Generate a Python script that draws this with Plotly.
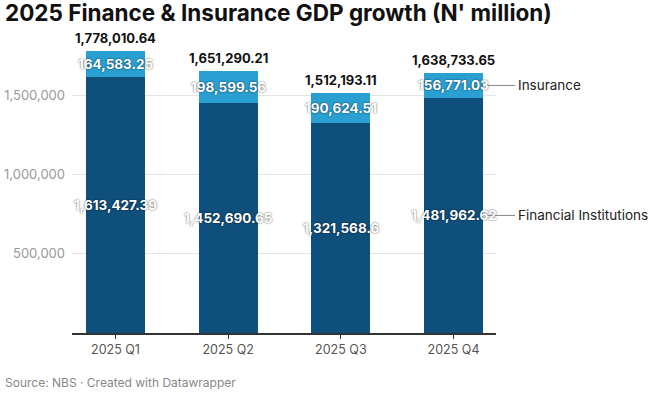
import plotly.graph_objects as go

categories = ["2025 Q1", "2025 Q2", "2025 Q3", "2025 Q4"]
financial = [1613427.39, 1452690.65, 1321568.6, 1481962.62]
insurance = [164583.25, 198599.56, 190624.51, 156771.03]
series_names = ["Financial Institutions", "Insurance"]
y_ticks = [500000, 1000000, 1500000]
title_text = "2025 Finance & Insurance GDP growth (N' million)"
source_text = "Source: NBS \u00b7 Created with Datawrapper"

DARK = "#0f4f7b"
LIGHT = "#2aa0d2"
FONT = "Inter"


def fmt(v):
    s = f"{v:,.2f}"
    s = s.rstrip("0").rstrip(".")
    return s


totals = [f + i for f, i in zip(financial, insurance)]

fig = go.Figure()
fig.add_bar(x=categories, y=financial, name=series_names[0], marker_color=DARK,
            marker_line_width=0, width=0.525, hoverinfo="skip")
fig.add_bar(x=categories, y=insurance, name=series_names[1], marker_color=LIGHT,
            marker_line_width=0, width=0.525, hoverinfo="skip")

shadow = "0px 0px 2px rgba(0,0,0,0.75)"
ann = []
for c, f, i, t in zip(categories, financial, insurance, totals):
    ann.append(dict(x=c, y=f / 2, xref="x", yref="y", text=fmt(f), showarrow=False,
                    font=dict(family=FONT, size=13.5, color="white", weight=700, shadow=shadow)))
    ann.append(dict(x=c, y=f + i / 2, xref="x", yref="y", text=fmt(i), showarrow=False,
                    font=dict(family=FONT, size=13.5, color="white", weight=700, shadow=shadow)))
    ann.append(dict(x=c, y=t, xref="x", yref="y", text=fmt(t), showarrow=False,
                    yanchor="bottom", yshift=3,
                    font=dict(family=FONT, size=13, color="#111", weight=700)))

# direct labels for last category
last_f = financial[-1]
last_i = insurance[-1]
shapes = []
for name, yv in [(series_names[0], last_f / 2), (series_names[1], last_f + last_i / 2)]:
    shapes.append(dict(type="line", xref="paper", yref="y", x0=0.974, x1=1.045, y0=yv, y1=yv,
                       line=dict(color="#888", width=1)))
    ann.append(dict(x=1.047, y=yv, xref="paper", yref="y", text=name, showarrow=False,
                    xanchor="left", font=dict(family=FONT, size=13.5, color="#222")))

ann.append(dict(x=-0.163, y=-0.17, xref="paper", yref="paper", text=source_text,
                showarrow=False, xanchor="left", yanchor="middle",
                font=dict(family=FONT, size=12, color="#888")))

fig.update_layout(
    width=653, height=393,
    barmode="stack",
    showlegend=False,
    plot_bgcolor="white", paper_bgcolor="white",
    margin=dict(l=72, r=157, t=40, b=60, pad=0, autoexpand=False),
    title=dict(text=f"<b>{title_text}</b>", x=5 / 653, xanchor="left", xref="container",
               y=1 - 5 / 393, yanchor="top", yref="container",
               font=dict(family=FONT, size=22.5, color="#111", weight=800), pad=dict(t=0, l=0)),
    annotations=ann,
    shapes=shapes,
    font=dict(family=FONT),
)
fig.update_xaxes(type="category", range=[-0.386, 3.377], showline=True, linecolor="#333",
                 linewidth=1.5, ticks="outside", ticklen=4, tickcolor="#333",
                 tickfont=dict(family=FONT, size=12.5, color="#555"), showgrid=False,
                 fixedrange=True, automargin=False)
fig.update_yaxes(range=[0, 1846600], tickvals=y_ticks, tickformat=",d", showgrid=True,
                 gridcolor="#e4e4e4", gridwidth=1, zeroline=False, ticks="",
                 ticklabelstandoff=6, automargin=False,
                 tickfont=dict(family=FONT, size=13, color="#999"), fixedrange=True)

fig.write_html("out.html", config={"displayModeBar": False},
               post_script="document.body.style.margin='0';document.body.style.padding='0';")
